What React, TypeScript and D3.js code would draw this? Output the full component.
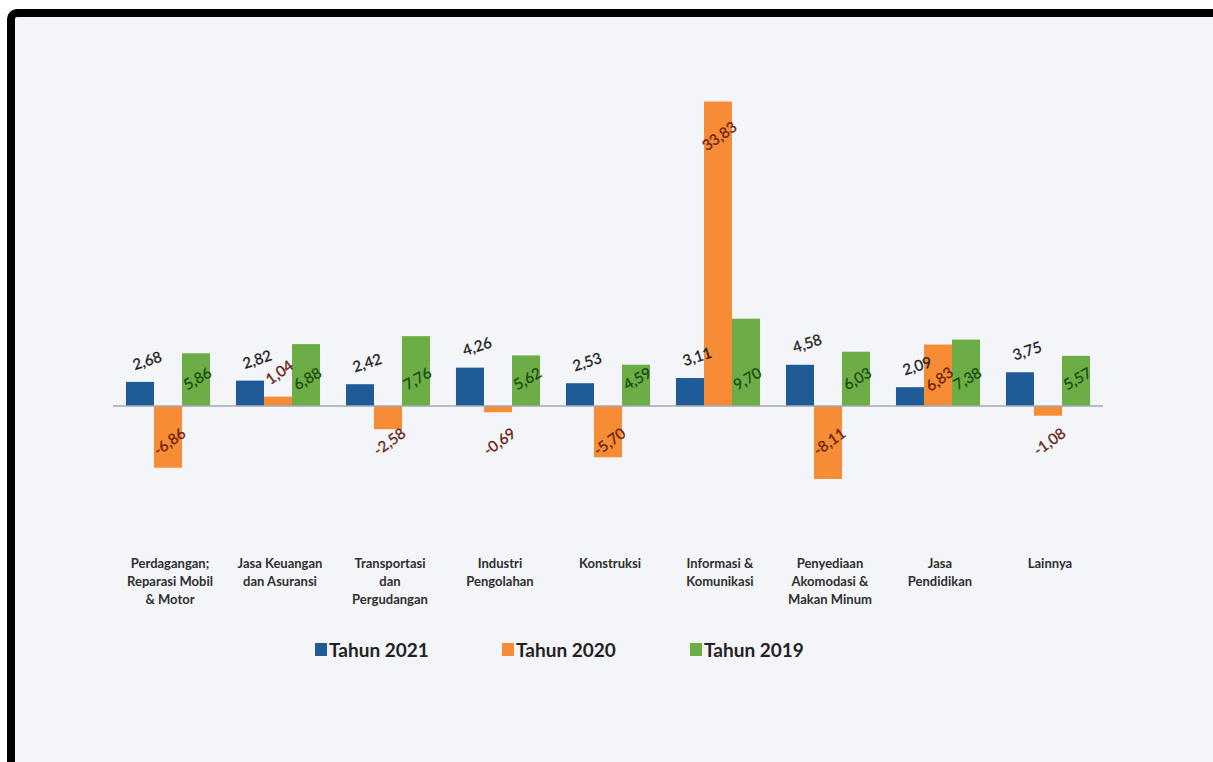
import React, { useRef, useEffect } from 'react';
import * as d3 from 'd3';

const categories = [
  ['Perdagangan;', 'Reparasi Mobil', '& Motor'],
  ['Jasa Keuangan', 'dan Asuransi'],
  ['Transportasi', 'dan', 'Pergudangan'],
  ['Industri', 'Pengolahan'],
  ['Konstruksi'],
  ['Informasi &', 'Komunikasi'],
  ['Penyediaan', 'Akomodasi &', 'Makan Minum'],
  ['Jasa', 'Pendidikan'],
  ['Lainnya'],
];
const tahun2021 = [2.68, 2.82, 2.42, 4.26, 2.53, 3.11, 4.58, 2.09, 3.75];
const tahun2020 = [-6.86, 1.04, -2.58, -0.69, -5.7, 33.83, -8.11, 6.83, -1.08];
const tahun2019 = [5.86, 6.88, 7.76, 5.62, 4.59, 9.7, 6.03, 7.38, 5.57];
const seriesNames = ['Tahun 2021', 'Tahun 2020', 'Tahun 2019'];

const W = 1213, H = 762;
const colors = ['#1f5b97', '#f68d36', '#6cad46'];
const labelColors = ['#1c1c1c', '#6a200f', '#1a4a0f'];
const font = 'Lato, "Open Sans", sans-serif';

const App: React.FC = () => {
  const svgRef = useRef<SVGSVGElement | null>(null);

  useEffect(() => {
    if (!svgRef.current) return;
    const svg = d3.select(svgRef.current);
    svg.selectAll('*').remove();

    // frame
    svg.append('rect').attr('width', W).attr('height', H).attr('fill', '#ffffff');
    svg.append('rect')
      .attr('x', 11).attr('y', 13).attr('width', W + 20).attr('height', H + 20)
      .attr('rx', 6)
      .attr('fill', '#f4f5f9').attr('stroke', '#000').attr('stroke-width', 8);

    const idx = categories.map((_, i) => i);
    const x = d3.scaleBand<number>().domain(idx).range([113, 1103]).paddingInner(0.236).paddingOuter(0.118);
    const sub = d3.scaleBand<number>().domain([0, 1, 2]).range([0, x.bandwidth()]);
    const y = d3.scaleLinear().domain([-10, 35]).range([496, 91]);
    const data = [tahun2021, tahun2020, tahun2019];
    const fmt = (v: number) => d3.format('.2f')(v).replace('.', ',').replace('−', '-');

    const g = svg.append('g');
    data.forEach((series, s) => {
      g.selectAll(null).data(series).enter().append('rect')
        .attr('x', (_, i) => (x(i) as number) + (sub(s) as number))
        .attr('width', sub.bandwidth())
        .attr('y', d => y(Math.max(0, d)))
        .attr('height', d => Math.abs(y(d) - y(0)))
        .attr('fill', colors[s]);
    });

    // zero line
    g.append('line')
      .attr('x1', 113).attr('x2', 1103)
      .attr('y1', y(0)).attr('y2', y(0))
      .attr('stroke', '#a3a8b2').attr('stroke-width', 1.5);

    // data labels
    const angles = [-18, -36, -30];
    data.forEach((series, s) => {
      g.selectAll(null).data(series).enter().append('text')
        .attr('transform', (d, i) => {
          const cx = (x(i) as number) + (sub(s) as number) + sub.bandwidth() / 2;
          let lx = cx, ly = 0;
          if (s === 0) { lx = cx + 7; ly = y(d) - 22; }
          else if (s === 1) {
            if (d < 0) ly = y(0) + 35;
            else if (y(0) - y(d) > 50) ly = y(d) + 34;
            else ly = y(d) - 25;
            lx = cx + 1;
          } else { ly = y(0) - 28; lx = cx + 1; }
          return `translate(${lx},${ly}) rotate(${angles[s]})`;
        })
        .attr('text-anchor', 'middle')
        .attr('dominant-baseline', 'central')
        .attr('font-family', font)
        .attr('font-size', 15)
        .attr('fill', labelColors[s])
        .attr('stroke', labelColors[s]).attr('stroke-width', 0.3)
        .text(d => fmt(d));
    });

    // category labels
    categories.forEach((lines, i) => {
      const t = g.append('text')
        .attr('text-anchor', 'middle')
        .attr('font-family', font)
        .attr('font-size', 13)
        .attr('font-weight', 'bold')
        .attr('fill', '#2e2e2e');
      lines.forEach((ln, k) => {
        t.append('tspan')
          .attr('x', (x(i) as number) + x.bandwidth() / 2 + 2)
          .attr('y', 568 + k * 18)
          .text(ln);
      });
    });

    // legend
    const legendX = [315, 502, 690];
    seriesNames.forEach((name, s) => {
      g.append('rect')
        .attr('x', legendX[s]).attr('y', 643).attr('width', 12).attr('height', 13)
        .attr('fill', colors[s]);
      g.append('text')
        .attr('x', legendX[s] + 14).attr('y', 657)
        .attr('font-family', font).attr('font-size', 19).attr('font-weight', 'bold')
        .attr('fill', '#222222')
        .text(name);
    });
  }, []);

  return (
    <svg ref={svgRef} width={W} height={H}
      style={{ position: 'absolute', left: 0, top: 0, display: 'block' }} />
  );
};

export default App;
